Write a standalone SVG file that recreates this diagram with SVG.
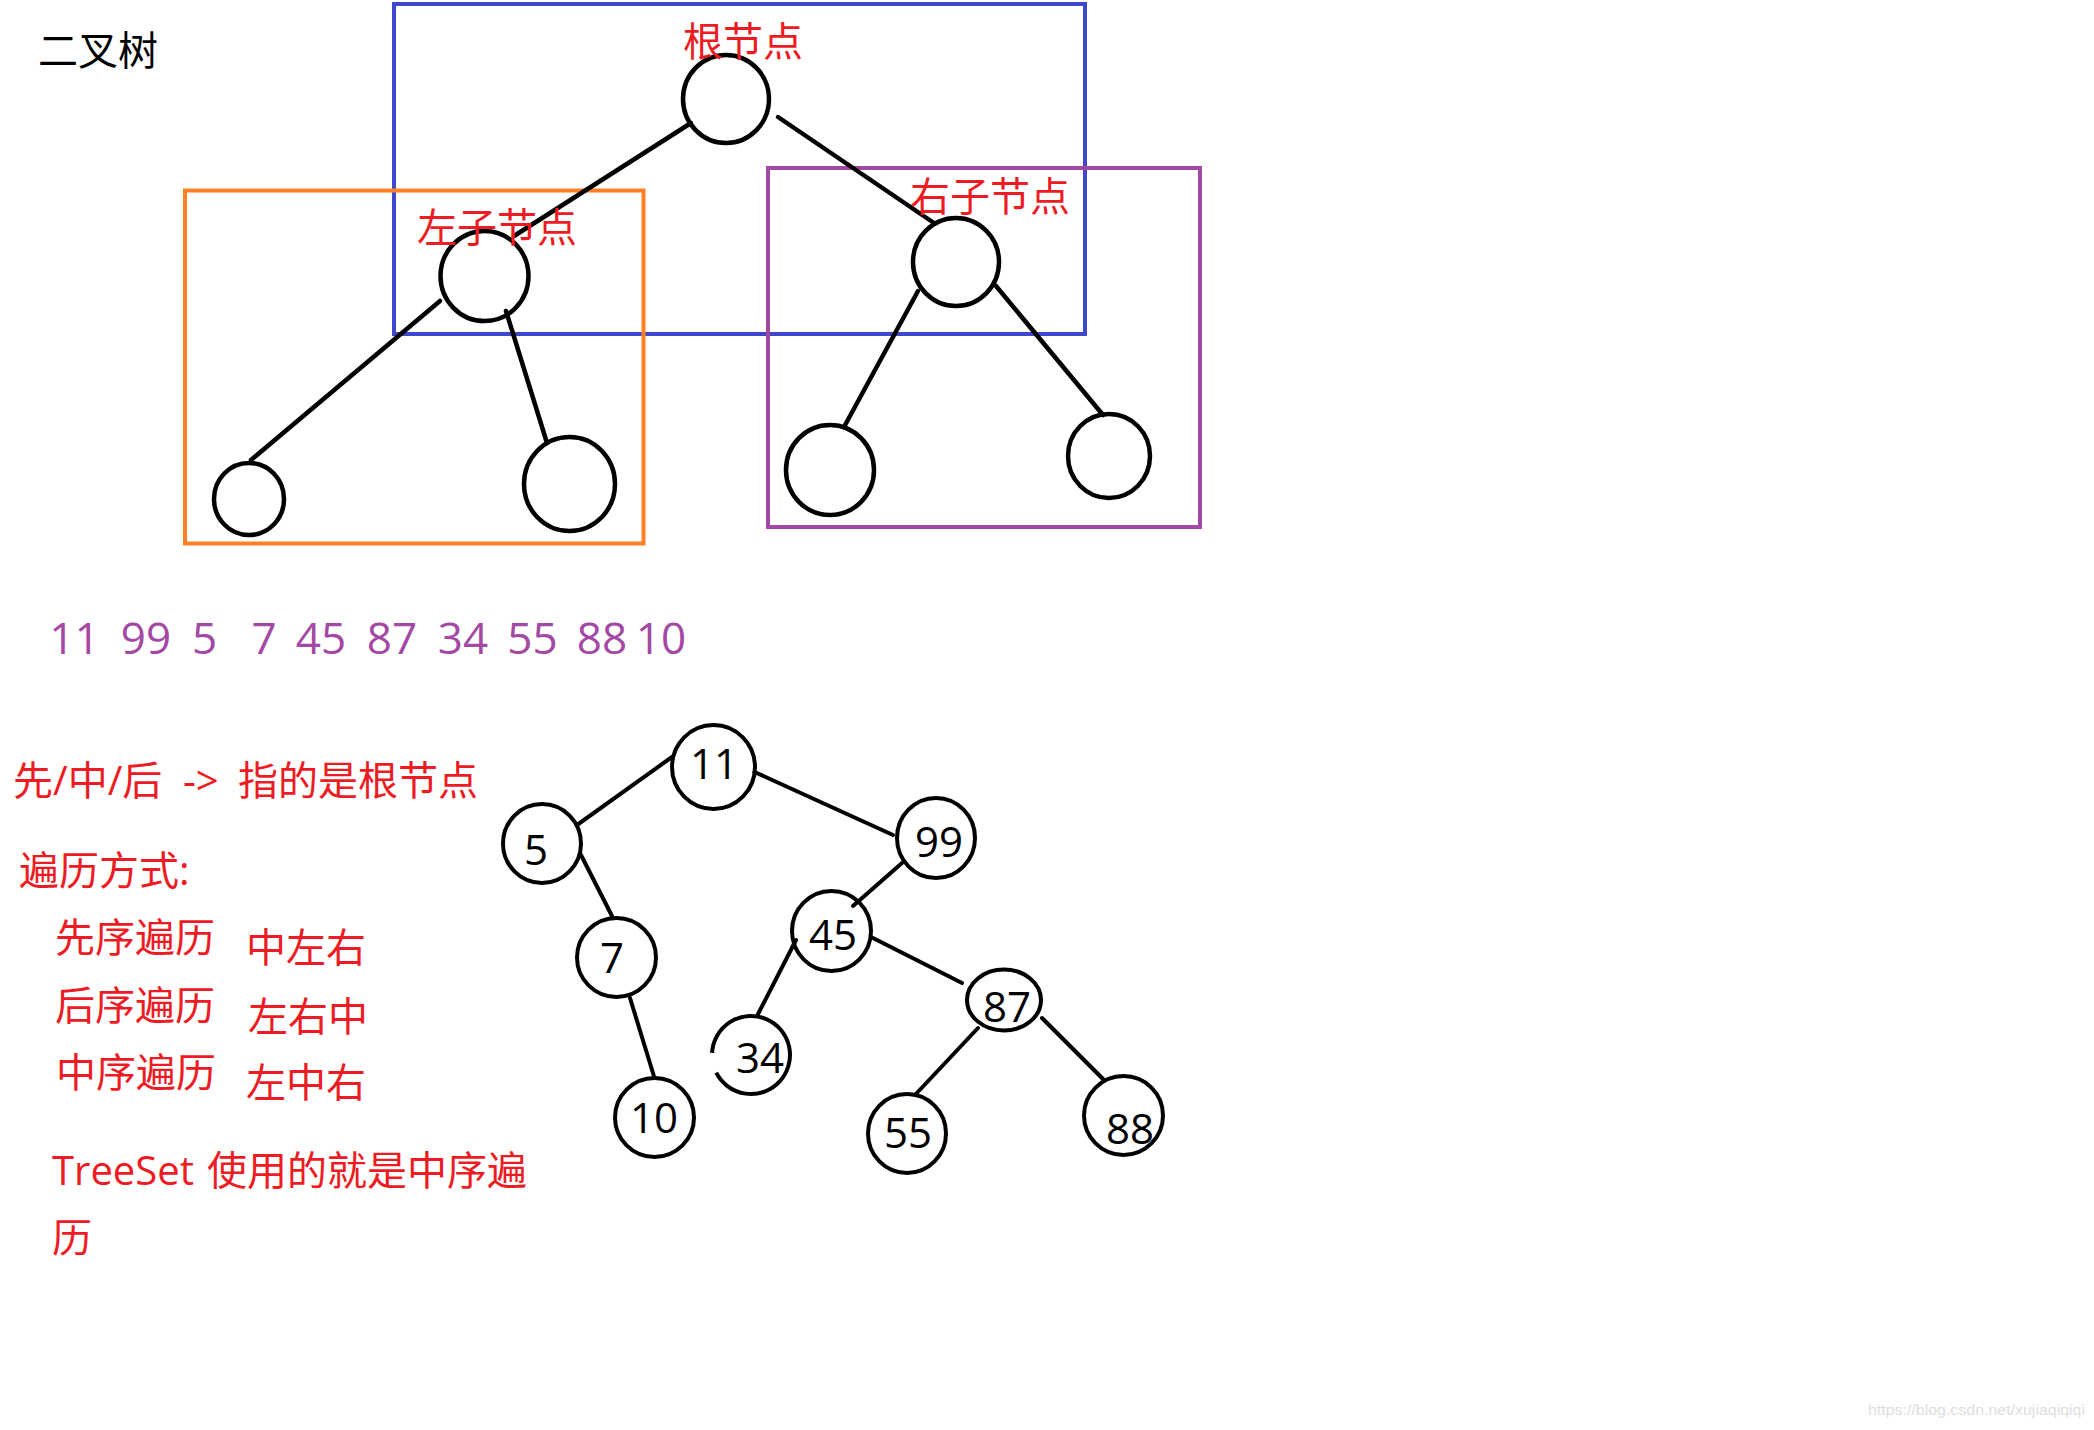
<svg xmlns="http://www.w3.org/2000/svg" width="2094" height="1430" viewBox="0 0 2094 1430">
<style>
.bg{fill:#ffffff}
.box{fill:none;stroke-width:4}
.blue{stroke:#3F48CC}
.orange{stroke:#FF7F27}
.purple{stroke:#A349A4}
.node{fill:none;stroke:#000;stroke-width:4.5}
.node2{fill:none;stroke:#000;stroke-width:4}
.edge{stroke:#000;stroke-width:4.5;stroke-linecap:round;fill:none}
.edge2{stroke:#000;stroke-width:4;stroke-linecap:round;fill:none}
.cjk{font-family:"Open Sans","Noto Sans CJK SC",sans-serif;font-size:40px}
.red{fill:#ED1C24}
.blk{fill:#000}
.num{font-family:"Open Sans",sans-serif;font-size:44px;fill:#A349A4;text-anchor:middle}
.lbl{font-family:"Open Sans",sans-serif;font-size:42px;fill:#000;text-anchor:middle}
.wm{font-family:"Liberation Sans",Arial,sans-serif;font-size:14.5px;fill:#dedede}
</style>
<rect class="bg" x="0" y="0" width="2094" height="1430"/>

<text class="cjk blk" x="38" y="65">二叉树</text>

<g id="box-root"><rect class="box blue" x="394" y="4" width="691" height="330"/></g>
<g id="box-left"><rect class="box orange" x="185" y="190.5" width="458.5" height="353"/></g>
<g id="box-right"><rect class="box purple" x="768" y="168" width="432" height="359"/></g>

<g id="connectors">
  <line class="edge" x1="691" y1="123" x2="514" y2="236"/>
  <line class="edge" x1="778" y1="117" x2="934" y2="223"/>
  <line class="edge" x1="440" y1="301" x2="251" y2="460"/>
  <line class="edge" x1="506" y1="311" x2="547" y2="443"/>
  <line class="edge" x1="918" y1="291" x2="844" y2="427"/>
  <line class="edge" x1="996" y1="286" x2="1103" y2="415"/>

  <line class="edge2" x1="672" y1="757" x2="577" y2="825"/>
  <line class="edge2" x1="754.5" y1="772" x2="893" y2="835"/>
  <line class="edge2" x1="581" y1="855" x2="613" y2="918"/>
  <line class="edge2" x1="630" y1="998" x2="654.5" y2="1078"/>
  <line class="edge2" x1="902" y1="863" x2="853" y2="906"/>
  <line class="edge2" x1="796" y1="940" x2="757" y2="1016"/>
  <line class="edge2" x1="871" y1="937" x2="962" y2="983"/>
  <line class="edge2" x1="978" y1="1028" x2="915" y2="1095"/>
  <line class="edge2" x1="1042" y1="1018" x2="1104" y2="1080"/>
</g>

<g id="t1-root"><ellipse class="node" cx="726" cy="99" rx="43" ry="44"/></g>
<g id="t1-left"><ellipse class="node" cx="484.5" cy="276" rx="44" ry="45"/></g>
<g id="t1-right"><ellipse class="node" cx="956" cy="262" rx="43" ry="44"/></g>
<g id="t1-ll"><ellipse class="node" cx="249" cy="499" rx="35" ry="36"/></g>
<g id="t1-lr"><ellipse class="node" cx="569.5" cy="484" rx="45.5" ry="47"/></g>
<g id="t1-rl"><ellipse class="node" cx="830" cy="470" rx="44" ry="45"/></g>
<g id="t1-rr"><ellipse class="node" cx="1109" cy="456" rx="41" ry="42"/></g>

<text class="cjk red" x="683" y="56">根节点</text>
<text class="cjk red" x="417" y="242">左子节点</text>
<text class="cjk red" x="910" y="211">右子节点</text>

<text class="num" y="654"><tspan x="74.5">11</tspan><tspan x="146">99</tspan><tspan x="204.5">5</tspan><tspan x="264">7</tspan><tspan x="321">45</tspan><tspan x="392">87</tspan><tspan x="463">34</tspan><tspan x="532.5">55</tspan><tspan x="602">88</tspan><tspan x="661">10</tspan></text>

<text class="cjk red" y="795"><tspan x="13">先/中/后</tspan><tspan x="183">-&gt;</tspan><tspan x="238">指的是根节点</tspan></text>
<text class="cjk red" x="19" y="885">遍历方式:</text>
<text class="cjk red" x="55" y="952">先序遍历</text>
<text class="cjk red" x="246" y="962">中左右</text>
<text class="cjk red" x="55" y="1020">后序遍历</text>
<text class="cjk red" x="248" y="1031">左右中</text>
<text class="cjk red" x="56" y="1087">中序遍历</text>
<text class="cjk red" x="246" y="1097">左中右</text>
<text class="cjk red" y="1185"><tspan x="52">TreeSet</tspan><tspan x="207">使用的就是中序遍</tspan></text>
<text class="cjk red" x="52" y="1252">历</text>

<g id="n11"><ellipse class="node2" cx="713.5" cy="767" rx="41.5" ry="42"/><text class="lbl" x="714" y="779">11</text></g>
<g id="n5"><ellipse class="node2" cx="542" cy="843.5" rx="39" ry="39.5"/><text class="lbl" x="536" y="865">5</text></g>
<g id="n99"><ellipse class="node2" cx="936" cy="838" rx="39" ry="40"/><text class="lbl" x="939" y="857">99</text></g>
<g id="n45"><ellipse class="node2" cx="831.5" cy="931" rx="39.5" ry="40"/><text class="lbl" x="833" y="950">45</text></g>
<g id="n7"><ellipse class="node2" cx="616.5" cy="957.5" rx="39.5" ry="39.5"/><text class="lbl" x="612" y="973">7</text></g>
<g id="n87"><ellipse class="node2" cx="1004" cy="1000" rx="37" ry="30.5"/><text class="lbl" x="1007" y="1022">87</text></g>
<g id="n34"><path class="node2" d="M 712.05 1052.96 A 39 39 0 1 1 716.25 1072.7"/><text class="lbl" x="760" y="1073">34</text></g>
<g id="n10"><ellipse class="node2" cx="654.5" cy="1117.5" rx="39.5" ry="39.5"/><text class="lbl" x="654" y="1133">10</text></g>
<g id="n55"><ellipse class="node2" cx="907" cy="1133.5" rx="39" ry="39.5"/><text class="lbl" x="908" y="1148">55</text></g>
<g id="n88"><ellipse class="node2" cx="1123.5" cy="1115.5" rx="39.5" ry="39.5"/><text class="lbl" x="1130" y="1144">88</text></g>

<text class="wm" x="1868" y="1415" textLength="217" lengthAdjust="spacingAndGlyphs">https://blog.csdn.net/xujiaqiqiqi</text>
</svg>
